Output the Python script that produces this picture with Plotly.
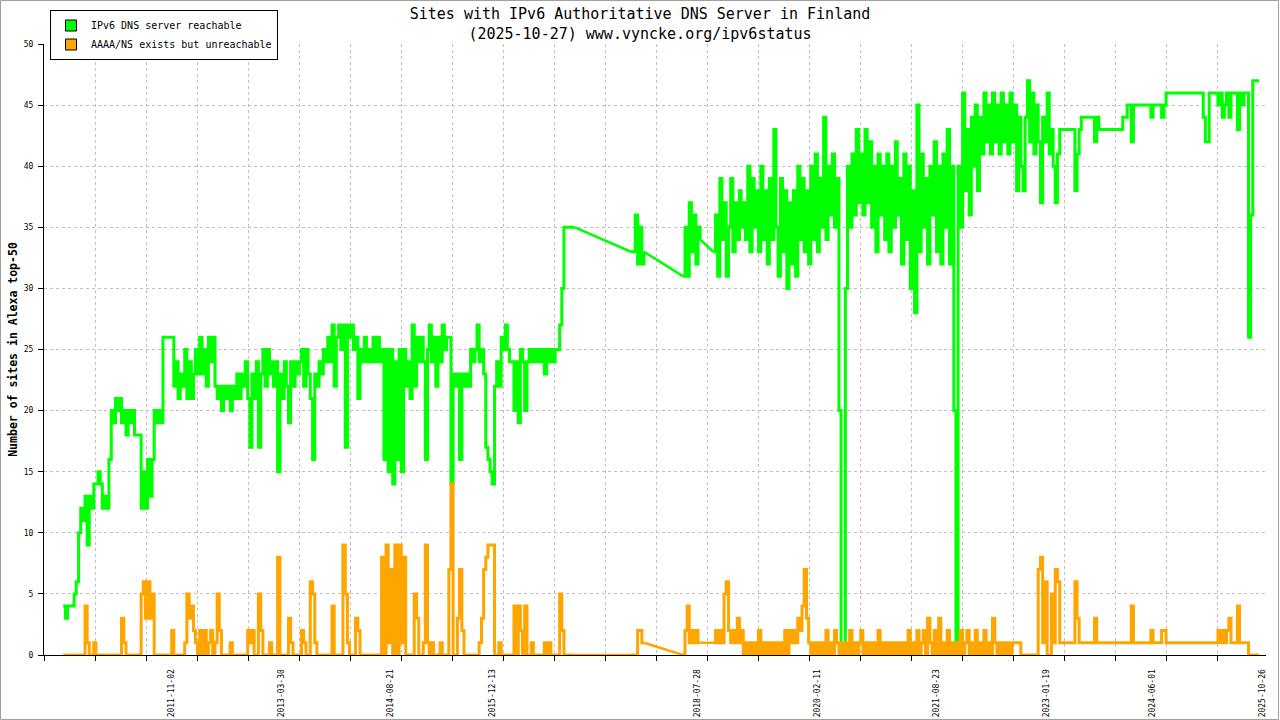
import plotly.graph_objects as go

N = None
YEARS = list(range(2010, 2026))
SLOT_DAYS = [1, 11, 21]  # three readings per month

# --- IPv6 DNS server reachable (3 readings per month) ---
green_2010 = [N]*17 + [4,3,4,4,4,5,6,10,12,11,13,9,13,12,14,14,15,14,12]
green_2011 = [13,12,16,20,19,21,20,21,19,20, 18,20,19,20,18,18,18,12,15,12,
              16,13,16,20,19,20,19,26,26,26, 26,26,22,24,21,23]
green_2012 = [22,25,21,24,21,23,25,23,26,23, 25,22,26,24,26,22,21,22,20,22,
              21,22,20,22,21,23,21,23,22,24, 21,17,23,21,24,17]
green_2013 = [23,25,22,25,23,24,22,24,15,23, 21,24,22,19,24,22,24,23,24,25,
              22,25,23,21,16,23,22,24,23,25, 24,26,24,27,22,26]
green_2014 = [27,25,27,17,27,26,27,25,26,21, 25,24,26,24,25,24,26,24,26,24,
              25,16,25,15,25,14,24,16,25,15, 25,22,24,21,27,22]
green_2015 = [26,24,26,24,16,25,27,24,26,22, 26,24,27,25,26,26,14,23,22,23,
              16,23,22,23,22,25,24,25,27,24, 25,23,17,16,15,14]
green_2016 = [22,24,22,26,25,27,25,24,24,20, 24,19,25,24,20,24,25,24,25,24,
              25,24,25,23,25,24,25,24,25,25, 27,30,35,35,35,35]
green_2017 = [35,35] + [N]*25 + [33,33,36,32,35,32,33] + [N,N]
green_2018 = [N]*15 + [31,35,31,37,33,36,32,35,34] + [N]*5 + [33,36,31,39,34,37,31]
green_2019 = [35,39,33,37,34,38,35,37,34,40, 33,39,35,38,33,40,34,38,32,39,
              34,43,35,31,39,33,38,30,37,32, 38,31,40,34,39,33]
green_2020 = [38,32,40,34,41,33,39,35,44,34, 40,36,41,35,39,20,0,0,30,40,
              35,41,36,43,37,41,36,43,37,42, 35,40,33,41,36,40]
green_2021 = [34,41,33,40,35,42,36,39,32,41, 34,40,30,38,28,45,33,41,35,39,
              32,40,36,42,33,40,32,41,35,43, 32,40,20,0,40,35]
green_2022 = [46,38,43,36,44,40,45,38,44,41, 46,42,45,41,46,42,45,41,46,42,
              45,41,46,42,45,38,44,40,38,44, 47,42,46,41,45,42]
green_2023 = [37,44,42,46,41,43,40,37,41,43, 43,43,43,43,43,43,38,41,43,44,
              44,44,44,44,44,42,44,43,43,43, 43,43,43,43,43,43]
green_2024 = [43,43,44,44,45,45,42,45,45,45, 45,45,45,45,45,44,45,45,45,45,
              44,45,46,46,46,46,46,46,46,46, 46,46,46,46,46,46]
green_2025 = [46,46,46,44,42,42,46,46,46,46, 45,46,44,45,46,44,46,46,46,43,
              46,45,46,46,26,36,47,47,47,47] + [N]*6

# --- AAAA/NS exists but unreachable ---
orange_2010 = [N]*17 + [0,0,0,0,0,0,0,0,0,0,4,1,0,0,1,0,0,0,0]
orange_2011 = [0,0,0,0,0,0,0,0,3,1, 0,0,0,0,0,0,0,5,6,3,
               6,3,5,0,0,0,0,0,0,0, 0,2,0,0,0,0]
orange_2012 = [0,1,5,3,4,2,1,0,2,0, 2,0,1,2,0,1,5,2,0,0,
               0,0,1,0,0,0,0,0,0,0, 2,1,2,0,0,5]
orange_2013 = [2,0,0,0,1,0,0,0,8,0, 0,0,0,3,1,0,0,0,0,2,
               1,0,0,6,5,1,0,0,0,0, 0,0,0,4,0,0]
orange_2014 = [0,0,9,5,1,0,0,0,3,2, 0,0,0,0,0,0,0,0,0,0,
               8,0,9,1,7,0,9,0,9,1, 8,0,0,0,0,5]
orange_2015 = [3,0,0,1,9,1,0,1,0,0, 0,1,0,0,0,7,14,0,0,3,
               7,2,0,0,0,0,0,0,0,1, 3,7,8,9,9,9]
orange_2016 = [0,0,1,0,0,0,0,0,0,4, 0,4,2,0,4,0,0,1,0,0,
               0,0,0,1,0,1,0,0,0,0, 5,2,0,0,0,0]
orange_2017 = [0,0] + [N]*25 + [0,0,0,2,2,1,1] + [N,N]
orange_2018 = [N]*15 + [0,2,4,1,2,1,2,1,1] + [N]*5 + [1,2,1,2,1,5,6]
orange_2019 = [2,1,2,1,3,1,2,0,1,0, 1,0,1,0,2,0,1,0,1,0,
               1,0,1,0,1,0,2,0,2,1, 2,1,3,2,4,7]
orange_2020 = [3,1,0,1,0,1,0,1,0,2, 0,1,0,2,1,0,1,0,1,0,
               2,0,1,0,1,2,0,1,0,1, 0,1,0,2,0,1]
orange_2021 = [0,1,0,1,0,1,0,1,0,1, 0,2,0,1,0,2,0,1,2,0,
               3,1,0,2,0,3,0,1,0,2, 0,1,0,1,0,2]
orange_2022 = [0,1,2,0,1,0,2,0,1,0, 2,0,1,0,3,1,0,1,0,1,
               0,1,0,1,1,1,1,0,0,0, 0,0,0,0,0,7]
orange_2023 = [8,1,6,0,0,5,1,7,6,1, 1,1,1,1,1,1,6,3,1,1,
               1,1,1,1,1,3,1,1,1,1, 1,1,1,1,1,1]
orange_2024 = [1,1,1,1,1,1,4,1,1,1, 1,1,1,1,1,2,1,1,1,1,
               2,2,1,1,1,1,1,1,1,1, 1,1,1,1,1,1]
orange_2025 = [1,1,1,1,1,1,1,1,1,1, 2,1,2,1,2,3,1,1,1,4,
               1,1,1,1,0,0,0,0,0,0] + [N]*6

GREEN = [green_2010, green_2011, green_2012, green_2013, green_2014, green_2015,
         green_2016, green_2017, green_2018, green_2019, green_2020, green_2021,
         green_2022, green_2023, green_2024, green_2025]
ORANGE = [orange_2010, orange_2011, orange_2012, orange_2013, orange_2014, orange_2015,
          orange_2016, orange_2017, orange_2018, orange_2019, orange_2020, orange_2021,
          orange_2022, orange_2023, orange_2024, orange_2025]

TICK_DATES = ["2011-11-02", "2013-03-30", "2014-08-21", "2015-12-13", "2018-07-28",
              "2020-02-11", "2021-08-23", "2023-01-19", "2024-06-01", "2025-10-26"]
Y_TICKS = [0, 5, 10, 15, 20, 25, 30, 35, 40, 45, 50]

dates, green, orange = [], [], []
for yr, g, o in zip(YEARS, GREEN, ORANGE):
    slots = [f"{yr}-{m:02d}-{d:02d}" for m in range(1, 13) for d in SLOT_DAYS]
    dates += slots
    green += g
    orange += o


def gap_bridges(xs, ys):
    """Straight segments across periods with no readings (as in the source)."""
    bx, by = [], []
    last = None
    i = 0
    while i < len(ys):
        if ys[i] is None:
            j = i
            while j < len(ys) and ys[j] is None:
                j += 1
            if last is not None and j < len(ys):
                bx += [xs[last], xs[j], None]
                by += [ys[last], ys[j], None]
            i = j
        else:
            last = i
            i += 1
    return bx, by


GREEN_C = "#00ff00"
ORANGE_C = "#ffa500"
FONT = "DejaVu Sans Mono"
LW = 3

fig = go.Figure()
for ys, col in [(green, GREEN_C), (orange, ORANGE_C)]:
    fig.add_trace(go.Scatter(x=dates, y=ys, mode="lines", line_shape="hv",
                             connectgaps=False,
                             line=dict(color=col, width=LW), showlegend=False,
                             hoverinfo="skip"))
    bx, by = gap_bridges(dates, ys)
    fig.add_trace(go.Scatter(x=bx, y=by, mode="lines",
                             line=dict(color=col, width=LW - 0.5),
                             showlegend=False, hoverinfo="skip"))

for name, col in [("IPv6 DNS server reachable", GREEN_C),
                  ("AAAA/NS exists but unreachable", ORANGE_C)]:
    fig.add_trace(go.Scatter(x=[None], y=[None], mode="markers", name=name,
                             marker=dict(symbol="square", size=11, color=col,
                                         line=dict(color="black", width=1))))

fig.update_layout(
    width=1280, height=720, autosize=False,
    margin=dict(l=44, r=14, t=44, b=65, autoexpand=False),
    paper_bgcolor="white", plot_bgcolor="white",
    font=dict(family=FONT, color="black"),
    title=dict(text="Sites with IPv6 Authoritative DNS Server in Finland<br>(2025-10-27) www.vyncke.org/ipv6status",
               x=0.5, xref="container", xanchor="center",
               y=1 - 19/720, yref="container", yanchor="top",
               font=dict(family=FONT, size=15, color="black")),
    legend=dict(x=(50-44)/1222, y=(655-10)/611, xanchor="left", yanchor="top",
                bgcolor="white", bordercolor="black", borderwidth=1,
                font=dict(family=FONT, size=10, color="black"),
                itemwidth=30),
    xaxis=dict(type="date", range=["2010-03-23", "2025-11-22"], automargin=False,
               tickmode="array", tickvals=TICK_DATES, ticktext=TICK_DATES,
               tickangle=-90, ticks="outside", ticklen=0,
               ticklabelstandoff=10, ticklabelshift=2,
               tickfont=dict(family=FONT, size=8, color="black"),
               showgrid=False, zeroline=False,
               showline=True, linecolor="black", linewidth=1,
               minor=dict(tick0="2010-03-23", dtick=239*86400000,
                          ticks="outside", ticklen=5, tickcolor="black",
                          showgrid=True, gridcolor="#c0c0c0", griddash="dot",
                          gridwidth=1)),
    yaxis=dict(range=[0, 50], tickmode="array", tickvals=Y_TICKS, automargin=False,
               ticks="outside", ticklen=5, tickcolor="black",
               tickfont=dict(family=FONT, size=8, color="black"),
               ticklabelstandoff=3,
               showgrid=True, gridcolor="#c0c0c0", griddash="dot", gridwidth=1,
               zeroline=False, showline=True, linecolor="black", linewidth=1,
               title=dict(text="Number of sites in Alexa top-50", standoff=3,
                          font=dict(family=FONT, size=11.5, color="black",
                                    weight="bold"))),
    yaxis2=dict(range=[0, 50], overlaying="y", side="right", anchor="x",
                showline=True, linecolor="black", linewidth=1, automargin=False,
                showgrid=False, zeroline=False, ticks="",
                showticklabels=False),
    shapes=[dict(type="rect", xref="paper", yref="paper",
                 x0=(0.5-44)/1222, x1=(1278.5-44)/1222,
                 y0=(655-719.5)/611, y1=(655-0.5)/611,
                 line=dict(color="#a0a0a0", width=1), fillcolor="rgba(0,0,0,0)",
                 layer="above")],
)

fig.write_html("out.html", config={"displayModeBar": False},
               post_script="document.body.style.margin='0';document.body.style.padding='0';")
